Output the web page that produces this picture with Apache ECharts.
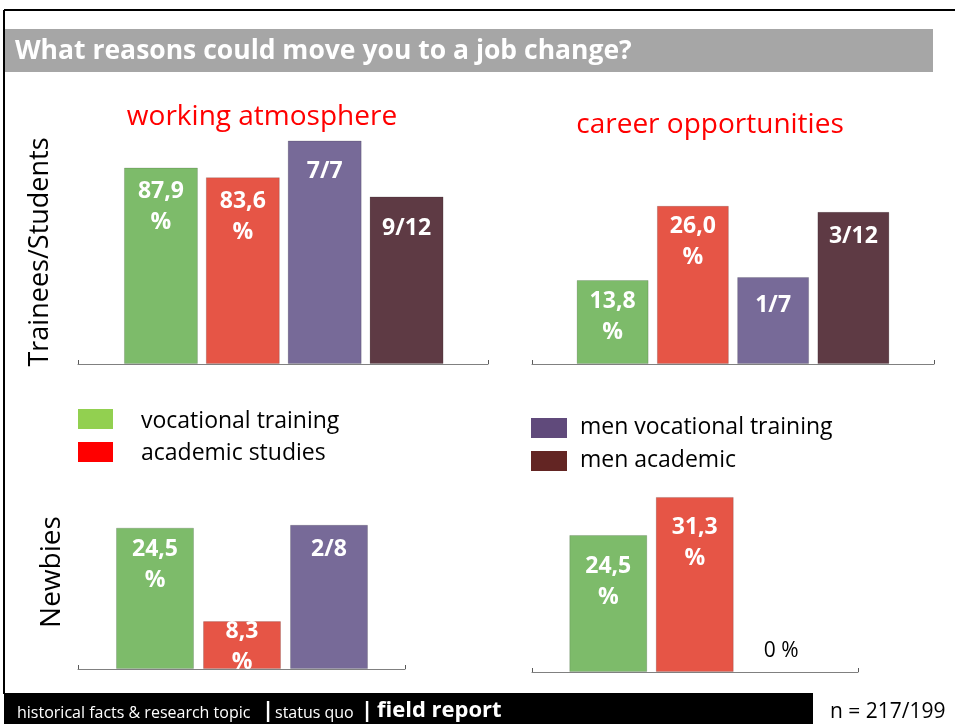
<!DOCTYPE html>
<html>
<head>
<meta charset="utf-8">
<script src="https://cdn.jsdelivr.net/npm/echarts@6/dist/echarts.min.js"></script>
<style>
    html, body { margin: 0; padding: 0; background: #fff; }
    #chart { width: 955px; height: 724px; }
</style>
</head>
<body>
<div id="chart"></div>
<script>
    // groups shown in every panel (bar order)
    const groups = ['vocational training', 'academic studies', 'men vocational training', 'men academic']
    const barColors = ['#7DBB6A', '#E65546', '#776A98', '#5E3A44']
    const legendColors = ['#92D050', '#FF0000', '#604A7B', '#632523']

    // Trainees/Students - working atmosphere (%; fractions converted: 7/7, 9/12)
    const traineesAtmosphere = [87.9, 83.6, 100, 75]
    const traineesAtmosphereLabels = ['87,9\n%', '83,6\n%', '7/7', '9/12']
    // Trainees/Students - career opportunities (1/7, 3/12)
    const traineesCareer = [13.8, 26.0, 14.3, 25]
    const traineesCareerLabels = ['13,8\n%', '26,0\n%', '1/7', '3/12']
    // Newbies - working atmosphere (2/8)
    const newbiesAtmosphere = [24.5, 8.3, 25]
    const newbiesAtmosphereLabels = ['24,5\n%', '8,3\n%', '2/8']
    // Newbies - career opportunities
    const newbiesCareer = [24.5, 31.3, 0]
    const newbiesCareerLabels = ['24,5\n%', '31,3\n%', '0 %']

    const font = '"Open Sans", "DejaVu Sans", sans-serif'

    // layout of the four small charts
    const panels = [
        {values: traineesAtmosphere, labels: traineesAtmosphereLabels, yMax: 100, top: 140.5, bottom: 364,
            axis: {left: 78, width: 410}, bars: {left: 120, width: 327.5}, barWidth: 74, labelDist: [8.5, 8.5, 15.5, 16.5]},
        {values: traineesCareer, labels: traineesCareerLabels, yMax: 28, top: 193.6, bottom: 364,
            axis: {left: 532, width: 402}, bars: {left: 572.5, width: 321}, barWidth: 72, labelDist: [5.5, 5, 12.5, 9]},
        {values: newbiesAtmosphere, labels: newbiesAtmosphereLabels, yMax: 26, top: 519, bottom: 669,
            axis: {left: 78, width: 327}, bars: {left: 111.5, width: 261}, barWidth: 78, labelDist: [6.5, -5, 9.5]},
        {values: newbiesCareer, labels: newbiesCareerLabels, yMax: 32, top: 493, bottom: 672,
            axis: {left: 532, width: 326}, bars: {left: 565, width: 259.5}, barWidth: 78, labelDist: [15.5, 15, 5]}
    ]

    const grid = [], xAxis = [], yAxis = [], series = []
    panels.forEach(p => {
        const g = grid.length
        const h = p.bottom - p.top
        // baseline grid (axis line with end ticks)
        grid.push({left: p.axis.left, width: p.axis.width, top: p.top, height: h})
        xAxis.push({
            gridIndex: g, type: 'category', data: [''],
            axisLine: {lineStyle: {color: '#808080', width: 1}},
            axisTick: {show: true, inside: true, length: 4, lineStyle: {color: '#595959'}},
            axisLabel: {show: false}
        })
        yAxis.push({gridIndex: g, type: 'value', show: false, min: 0, max: p.yMax})
        // bar grid
        grid.push({left: p.bars.left, width: p.bars.width, top: p.top, height: h})
        xAxis.push({gridIndex: g + 1, type: 'category', data: groups.slice(0, p.values.length), show: false})
        yAxis.push({gridIndex: g + 1, type: 'value', show: false, min: 0, max: p.yMax})
        series.push({
            type: 'bar',
            xAxisIndex: g + 1,
            yAxisIndex: g + 1,
            barWidth: p.barWidth,
            data: p.values.map((v, k) => ({
                value: v,
                itemStyle: {color: barColors[k], borderColor: 'rgba(0,0,0,0.15)', borderWidth: v === 0 ? 0 : 1},
                label: v === 0 ? {
                    show: true, position: 'top', distance: p.labelDist[k],
                    formatter: p.labels[k], color: '#000', fontFamily: font, fontSize: 21, lineHeight: 31
                } : {
                    show: true, position: 'insideTop', distance: p.labelDist[k],
                    formatter: p.labels[k], color: '#fff', fontFamily: font,
                    fontWeight: 'bold', fontSize: 23, lineHeight: 31
                }
            }))
        })
    })

    const txt = (x, y, text, size, extra) => ({
        type: 'text', x: x, y: y, silent: true,
        style: Object.assign({text: text, fill: '#000', font: size + 'px ' + font, verticalAlign: 'middle'}, extra || {})
    })

    const graphic = [
        // slide frame
        {type: 'line', shape: {x1: 4, y1: 10, x2: 955, y2: 10}, style: {stroke: '#000', lineWidth: 2}},
        {type: 'line', shape: {x1: 4, y1: 10, x2: 4, y2: 694}, style: {stroke: '#000', lineWidth: 2}},
        // title bar
        {type: 'rect', shape: {x: 5, y: 29, width: 928, height: 43}, style: {fill: '#A6A6A6'}},
        txt(15, 51, 'What reasons could move you to a job change?', 26, {fill: '#fff', font: 'bold 26.5px ' + font}),
        // panel titles
        txt(262, 117, 'working atmosphere', 28, {fill: '#FF0000', align: 'center'}),
        txt(710, 125, 'career opportunities', 28, {fill: '#FF0000', align: 'center'}),
        // row labels
        Object.assign(txt(40, 252, 'Trainees/Students', 27, {align: 'center'}), {rotation: Math.PI / 2}),
        Object.assign(txt(52, 572, 'Newbies', 28, {align: 'center'}), {rotation: Math.PI / 2}),
        // legend
        {type: 'rect', shape: {x: 78, y: 409, width: 35, height: 20}, style: {fill: legendColors[0]}},
        {type: 'rect', shape: {x: 78, y: 442, width: 35, height: 20}, style: {fill: legendColors[1]}},
        {type: 'rect', shape: {x: 531, y: 418, width: 36, height: 20}, style: {fill: legendColors[2]}},
        {type: 'rect', shape: {x: 531, y: 451, width: 36, height: 20}, style: {fill: legendColors[3]}},
        txt(141, 421, groups[0], 23),
        txt(141, 453, groups[1], 23),
        txt(580, 427, groups[2], 23),
        txt(580, 460, 'men academic', 23),
        // footer
        {type: 'rect', shape: {x: 4, y: 693, width: 809, height: 31}, style: {fill: '#000'}},
        txt(17, 713, 'historical facts & research topic', 16, {fill: '#fff'}),
        txt(262, 711, '|', 22, {fill: '#fff', font: 'bold 22px ' + font}),
        txt(275, 713, 'status quo', 16, {fill: '#fff'}),
        txt(361, 711, '|', 22, {fill: '#fff', font: 'bold 22px ' + font}),
        txt(377, 711, 'field report', 22, {fill: '#fff', font: 'bold 22px ' + font}),
        txt(830, 712, 'n = 217/199', 21)
    ]

    const chart = echarts.init(document.getElementById('chart'))
    chart.setOption({
        animation: false,
        backgroundColor: '#fff',
        grid: grid,
        xAxis: xAxis,
        yAxis: yAxis,
        series: series,
        graphic: graphic
    })
</script>
</body>
</html>
